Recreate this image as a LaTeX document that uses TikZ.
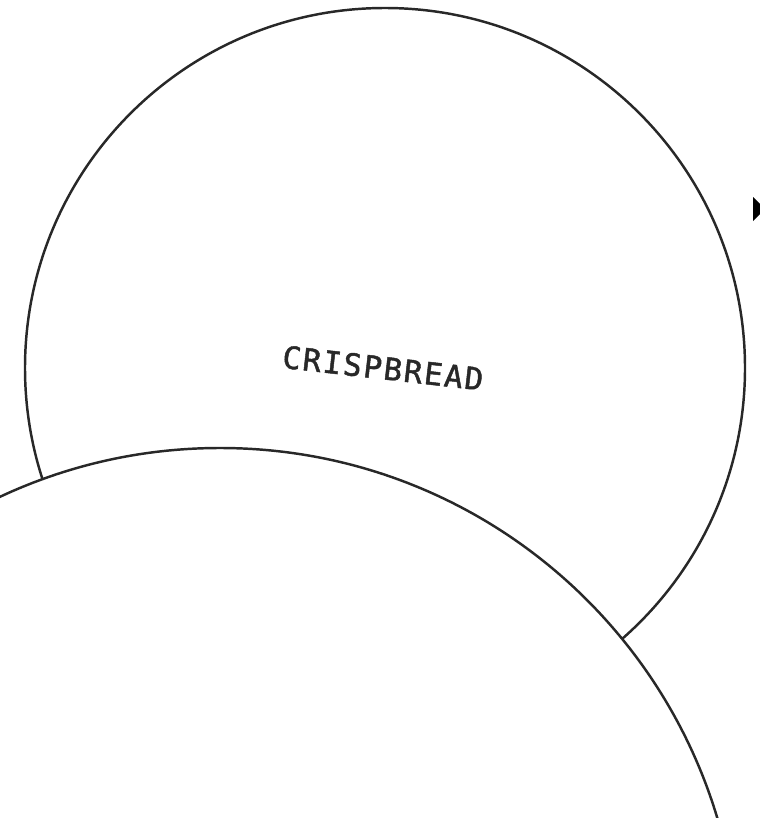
\documentclass[tikz,border=0pt]{standalone}
\usepackage{fontspec}
\newfontfamily\labelmono[LetterSpace=6, FakeBold=1.5]{DejaVu Sans Mono}
\definecolor{rimgray}{RGB}{40,40,40}

\begin{document}
\begin{tikzpicture}[
    x=0.02cm, y=-0.02cm,
    rim/.style  ={draw=rimgray, line width=1.4pt, fill=white},
    tag/.style  ={font=\labelmono\fontsize{17.5}{19}\selectfont,
                  text=rimgray, inner sep=0pt},
    pointer/.style ={fill=black},
  ]

  % ---- frame ----
  \useasboundingbox (0,0) rectangle (760,818);
  \clip (0,0) rectangle (760,818);

  % ---- upper circle with its label ----
  \coordinate (upper) at (385,368);
  \draw[rim] (upper) circle[radius=360];
  \node[tag, rotate=-6.5] (crisp) at (383,368) {CRISPBREAD};

  % ---- lower circle (drawn over the upper one) ----
  \coordinate (lower) at (220,967);
  \draw[rim] (lower) circle[radius=519];

  % ---- pointer tip at the right edge ----
  \coordinate (tip) at (753,197);
  \fill[pointer] (tip) -- ++(0,24) -- ++(12,-12) -- cycle;

\end{tikzpicture}
\end{document}
